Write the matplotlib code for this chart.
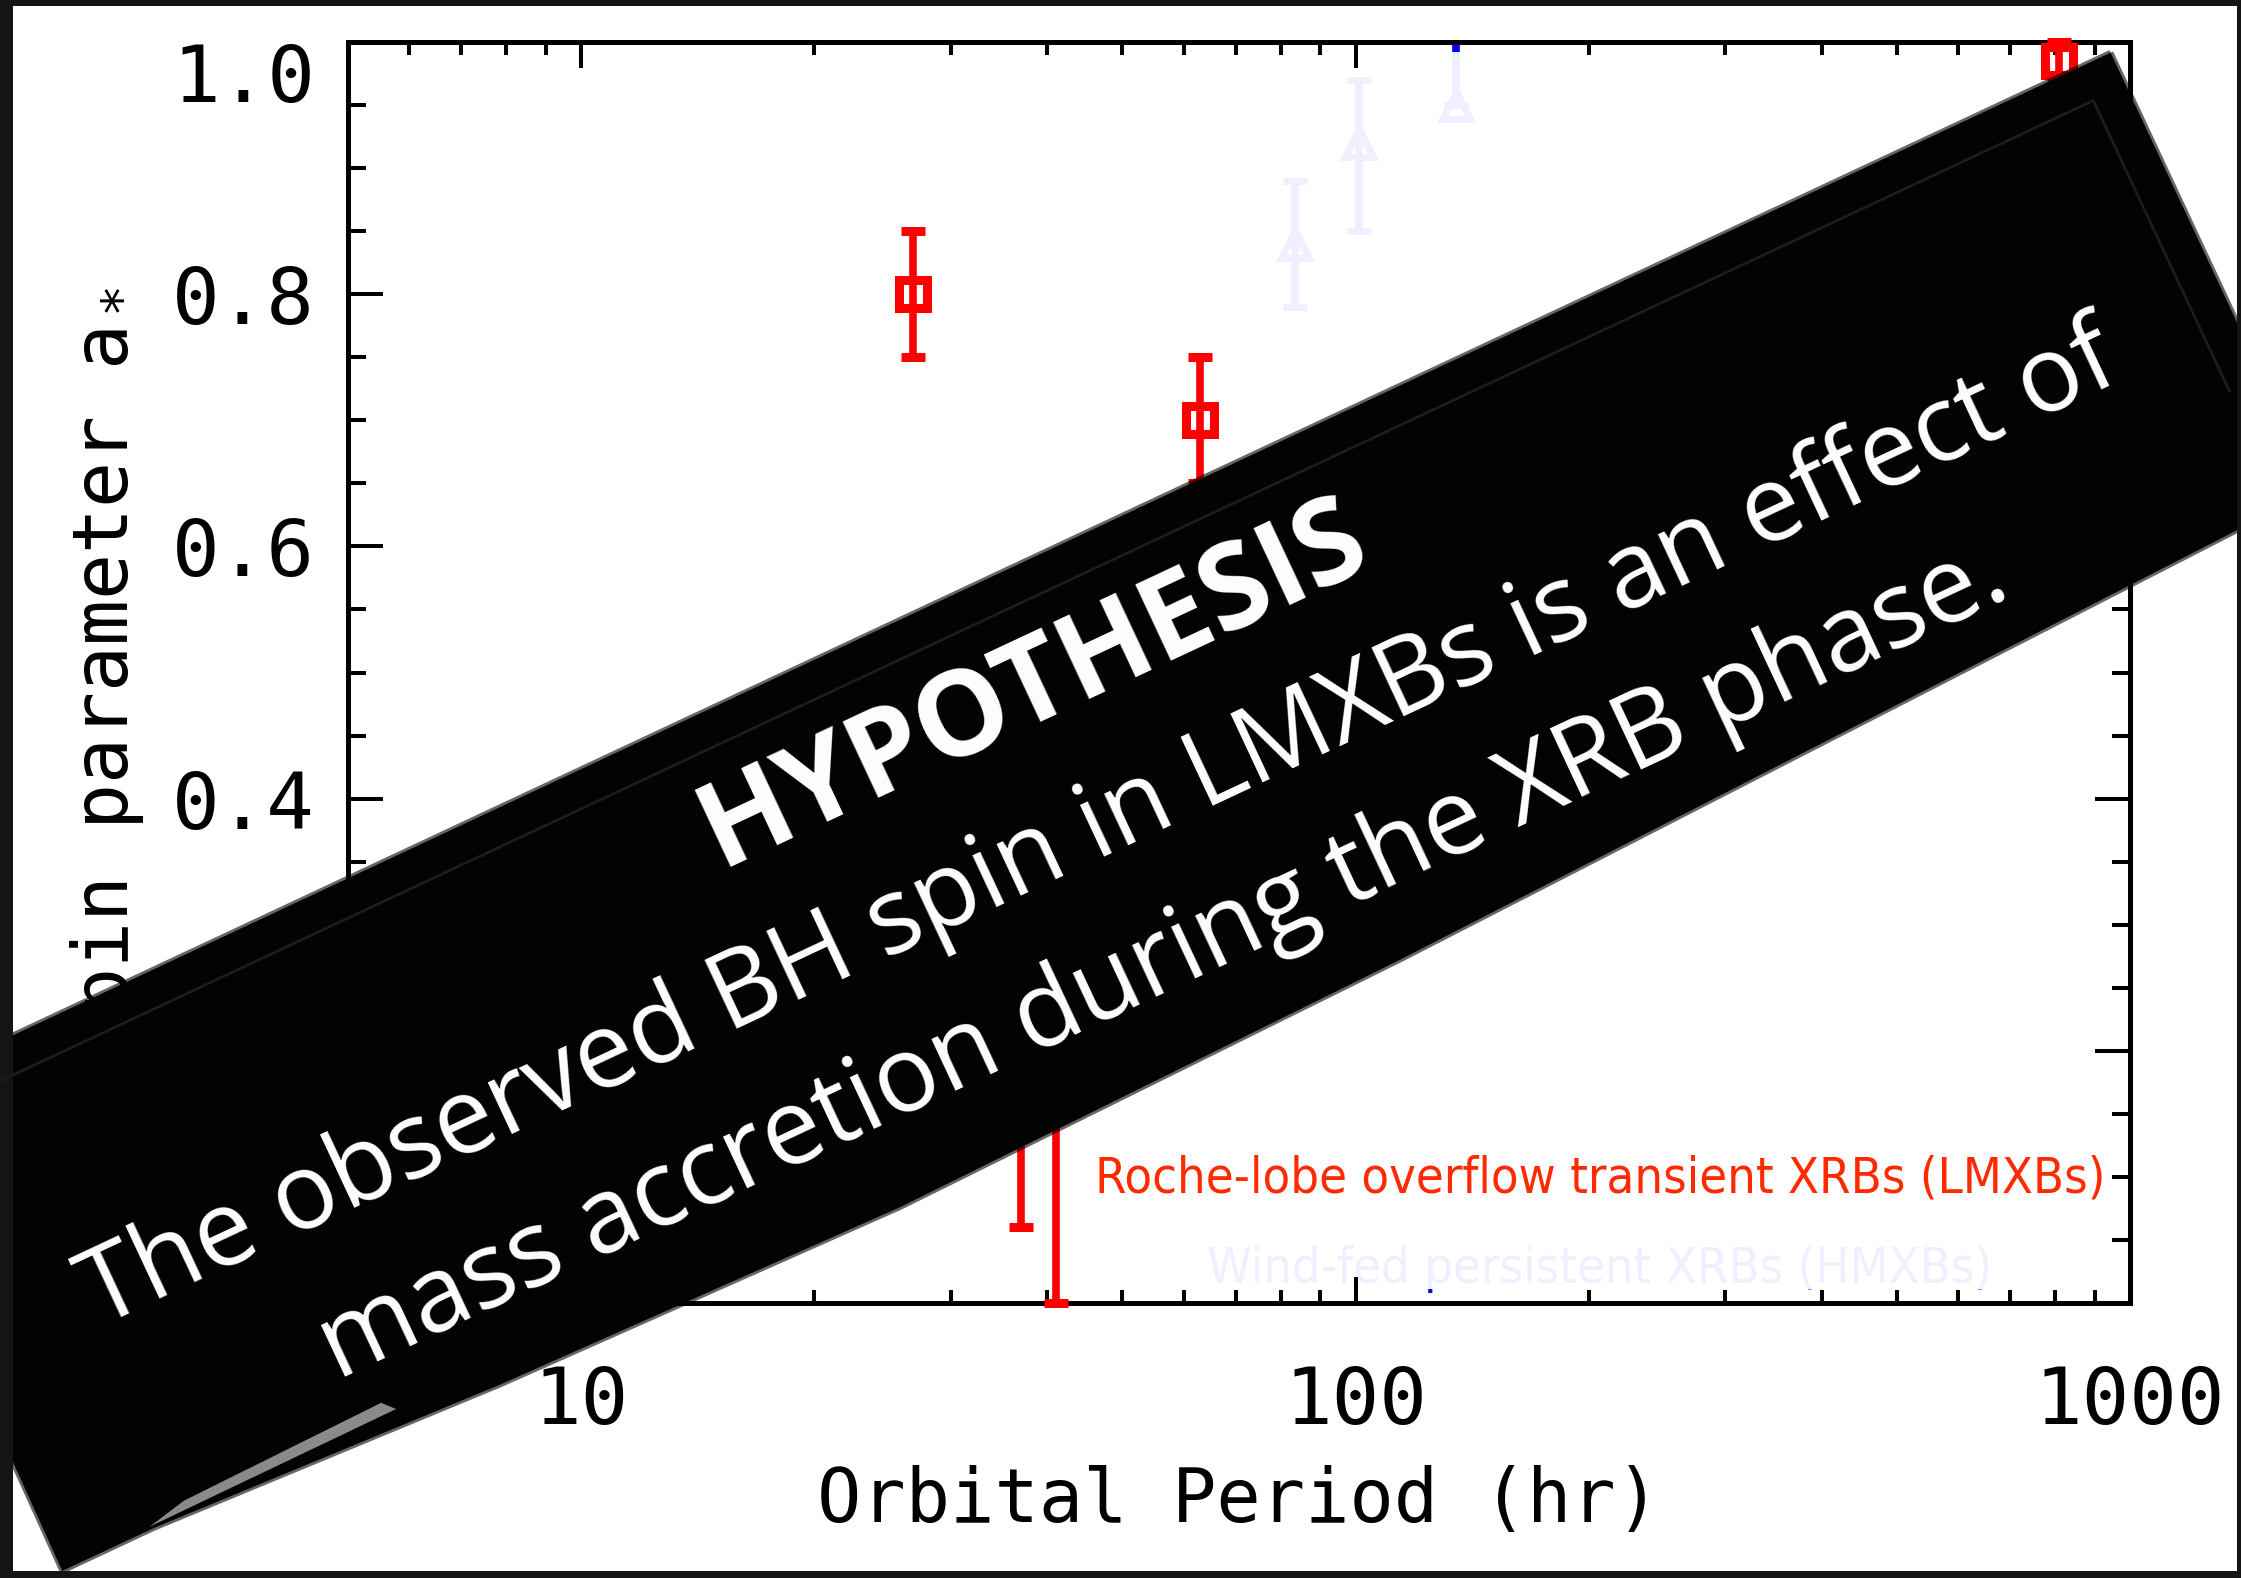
import numpy as np
import matplotlib
matplotlib.use('Agg')
import matplotlib.pyplot as plt
from matplotlib import font_manager as fm
from matplotlib.patches import Polygon, Rectangle
from matplotlib.ticker import MultipleLocator, LogLocator, NullFormatter

plt.rcParams['font.family'] = 'DejaVu Sans Mono'
plt.rcParams['mathtext.fontset'] = 'custom'
plt.rcParams['mathtext.rm'] = 'DejaVu Sans Mono'
plt.rcParams['mathtext.it'] = 'DejaVu Sans Mono'

# ---- BH spin vs orbital period ----
# Roche-lobe overflow transient XRBs (LMXBs)
lm_period = [26.8, 37.0, 41.0, 63.0, 810.0]
lm_spin = [0.80, 0.34, 0.25, 0.70, 0.985]
lm_err_lo = [0.05, 0.28, 0.25, 0.05, 0.015]
lm_err_hi = [0.05, 0.20, 0.25, 0.05, 0.015]

# wind-fed persistent XRBs (HMXBs)
hm_period = [83.4, 101.0, 134.6]
hm_spin = [0.84, 0.92, 0.95]
hm_err_lo = [0.05, 0.07, 0.0]
hm_err_hi = [0.05, 0.05, 0.06]

lm_label = 'Roche-lobe overflow transient XRBs (LMXBs)'
hm_label = 'Wind-fed persistent XRBs (HMXBs)'

banner_title = 'HYPOTHESIS'
banner_lines = ['The observed BH spin in LMXBs is an effect of',
                'mass accretion during the XRB phase.']


def narrow_font():
    # a condensed / narrow sans face if one is installed, else Roboto
    for f in fm.fontManager.ttflist:
        name = f.name
        if 'Serif' in name or 'Mono' in name or f.style != 'normal':
            continue
        if f.weight not in (400, 500, 'normal', 'regular', 'medium'):
            continue
        st = str(f.stretch).lower()
        if 'condensed' in st or 'narrow' in st or 'Narrow' in name \
                or 'Condensed' in name:
            return fm.FontProperties(fname=f.fname)
    return fm.FontProperties(family=['Roboto', 'Liberation Sans'])


W, H = 2241, 1578
fig = plt.figure(figsize=(W / 100, H / 100), dpi=100, facecolor='white')

# ---------------- the plot itself ----------------
ax = fig.add_axes([348 / W, 1 - 1303 / H, (2130 - 348) / W, (1303 - 42) / H])
ax.set_xscale('log')
ax.set_xlim(5, 1000)
ax.set_ylim(0, 1)

legend_font = narrow_font()

ax.errorbar(hm_period, hm_spin, yerr=[hm_err_lo, hm_err_hi], fmt='^',
            color='blue', ms=20, mew=5, mfc='none', elinewidth=5.5,
            capsize=8.3, capthick=5.8, zorder=2)
hm_txt = ax.text(0.7026, 0.0159, hm_label, transform=ax.transAxes,
                 ha='center', va='baseline', color='blue',
                 fontproperties=legend_font, zorder=2)

# washed-out layer over the HMXB points
ax.add_patch(Rectangle((0.003, 0.011), 0.994, 0.981, transform=ax.transAxes,
                       fc='white', ec='none', alpha=0.94, zorder=2.3))

ax.errorbar(lm_period, lm_spin, yerr=[lm_err_lo, lm_err_hi], fmt='s',
            color='red', ms=20, mew=6.5, mfc='none', elinewidth=5.5,
            capsize=8.3, capthick=5.8, zorder=3, clip_on=False)
lm_txt = ax.text(0.7026, 0.0873, lm_label, transform=ax.transAxes,
                 ha='center', va='baseline', color='#ff2a00',
                 fontproperties=legend_font, zorder=4)

ax.set_xticks([10, 100, 1000])
ax.set_xticklabels(['10', '100', '1000'])
ax.xaxis.set_minor_locator(LogLocator(subs=np.arange(2, 10)))
ax.xaxis.set_minor_formatter(NullFormatter())
ax.set_yticks([0.0, 0.2, 0.4, 0.6, 0.8, 1.0])
ax.set_yticklabels(['0.0', '0.2', '0.4', '0.6', '0.8', ''])
ax.yaxis.set_minor_locator(MultipleLocator(0.05))
ax.text(-0.0185, 1.0, '1.0', transform=ax.transAxes, ha='right', va='top',
        fontsize=57)

ax.tick_params(which='both', direction='in', top=True, right=True,
               width=2.9, labelsize=57)
ax.tick_params(axis='x', which='major', length=19, pad=44)
ax.tick_params(axis='x', which='minor', length=9.5)
ax.tick_params(axis='y', which='major', length=25, pad=24)
ax.tick_params(axis='y', which='minor', length=13)
ax.xaxis.set_zorder(2.4)
ax.yaxis.set_zorder(2.4)
for sp in ax.spines.values():
    sp.set_linewidth(3.6)

ax.set_xlabel('Orbital Period (hr)', fontsize=53, va='baseline')
ax.xaxis.set_label_coords(0.5, -0.174)
ax.set_ylabel('Spin parameter a$_*$', fontsize=55, va='center')
ax.yaxis.set_label_coords(-0.1352, 0.5)

# squeeze the two group labels to their printed widths
fig.canvas.draw()
rend = fig.canvas.get_renderer()
for t, width_px in [(lm_txt, 1011), (hm_txt, 786)]:
    t.set_fontsize(20)
    t.set_fontsize(20 * width_px / t.get_window_extent(rend).width)

# ---------------- tilted black banner on top ----------------
ov = fig.add_axes([0, 0, 1, 1], zorder=10)
ov.set_xlim(0, W)
ov.set_ylim(H, 0)
ov.axis('off')

ang = 25.1
th = np.deg2rad(ang)
U = np.array([np.cos(th), -np.sin(th)])   # along the banner
N = np.array([np.sin(th), np.cos(th)])    # across the banner


def band(pts):
    return np.array([s * U + k * N for s, k in pts])


outline = [(1889, 943), (1889, 1426), (1804, 1429), (860, 1463), (303, 1475),
           (-135, 1466), (-509, 1449), (-610, 1449), (-608, 1296),
           (-800, 1296), (-800, 943)]
ov.add_patch(Polygon(band(outline), closed=True, fc='none', ec='black',
                     lw=4, alpha=0.6))
ov.add_patch(Polygon(band(outline), closed=True, fc='#030303', ec='none'))
# inner border of the tape
ov.plot(*band([(-800, 979), (1853, 979), (1853, 1300)]).T, color='#1c1c1c',
        lw=2)
ov.add_patch(Polygon(band([(-512, 1446), (-239, 1444), (-250, 1432),
                           (-470, 1437)]), closed=True, fc='#8a8a8a',
                     ec='none'))

for k, txt, size, wt in [(1090, banner_title, 85, 'bold'),
                         (1244, banner_lines[0], 76, 'normal'),
                         (1393, banner_lines[1], 76, 'normal')]:
    x, y = 645 * U + k * N
    ov.text(x, y, txt, rotation=ang, rotation_mode='anchor', ha='center',
            va='baseline', color='white', fontsize=size, fontweight=wt,
            family='Open Sans')

# dark photo frame
for x0, y0, w, h in [(0, 0, 13, H), (0, 0, W, 6), (0, H - 7, W, 7),
                     (W - 4, 0, 4, H)]:
    ov.add_patch(Rectangle((x0, y0), w, h, fc='#141414', ec='none'))

fig.savefig('out.png', dpi=100, facecolor='white')
